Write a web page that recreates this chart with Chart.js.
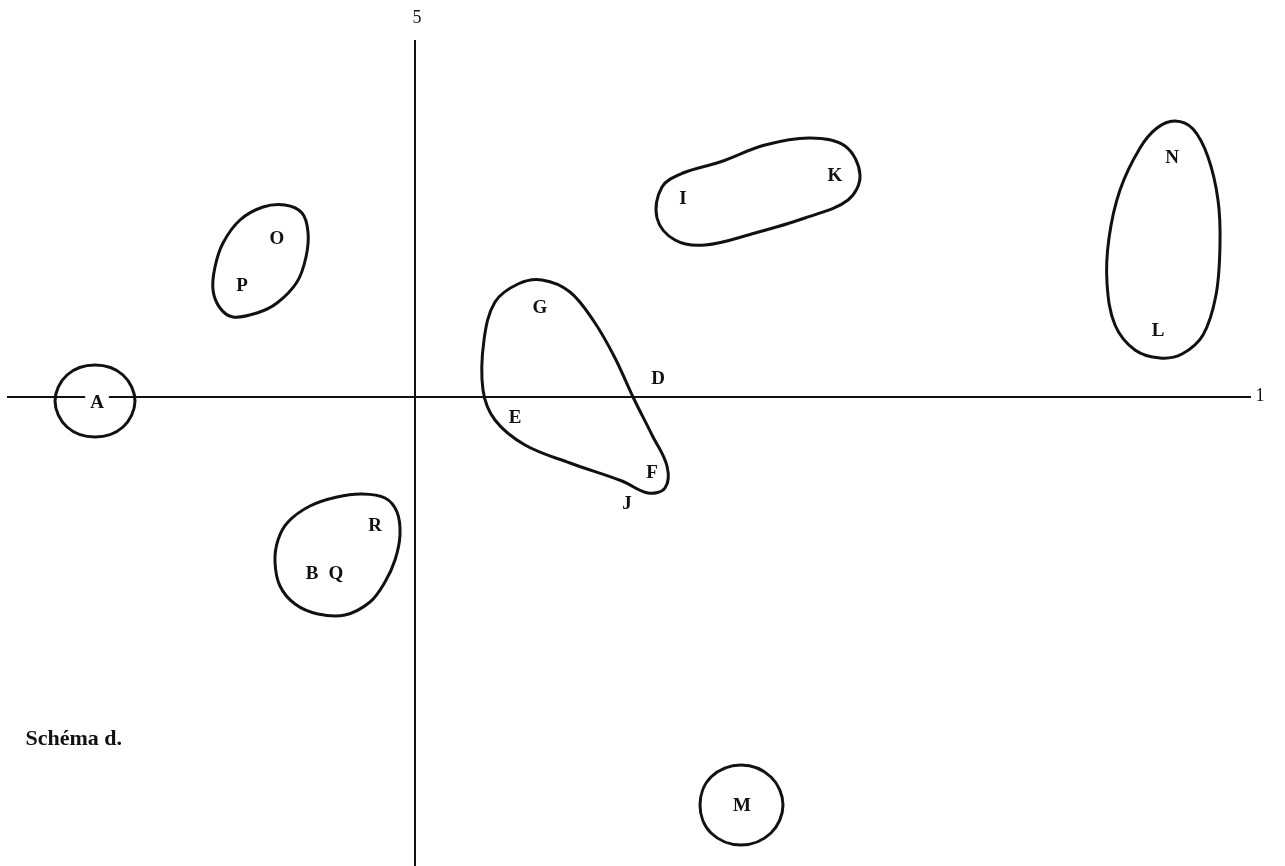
<!DOCTYPE html>
<html>
<head>
<meta charset="utf-8">
<script src="https://cdn.jsdelivr.net/npm/chart.js@4.4.1/dist/chart.umd.min.js"></script>
<style>
  html, body { margin: 0; padding: 0; background: #fff; }
  #wrap { width: 1285px; height: 866px; }
</style>
</head>
<body>
<div id="wrap"><canvas id="schema" width="1285" height="866"></canvas></div>
<script>
// individual positions on factors 1 (x) and 5 (y)
const names = ['A', 'O', 'P', 'R', 'B', 'Q', 'G', 'D', 'E', 'F', 'J', 'I', 'K', 'N', 'L', 'M'];
const factor1 = [-3.18, -1.38, -1.73, -0.40, -1.03, -0.79, 1.25, 2.43, 1.00, 2.37, 2.12, 2.68, 4.20, 7.57, 7.43, 3.27];
const factor5 = [-0.05, 1.59, 1.12, -1.28, -1.76, -1.76, 0.90, 0.19, -0.20, -0.75, -1.06, 1.99, 2.22, 2.40, 0.67, -4.08];

// outlines of the groups, [x, y] on the same two factors
const groupA = [[-3.20, 0.32], [-2.92, 0.22], [-2.80, -0.04], [-2.92, -0.30], [-3.20, -0.40], [-3.48, -0.30], [-3.60, -0.04], [-3.48, 0.22]];
const groupOP = [[-1.30, 1.92], [-1.13, 1.84], [-1.07, 1.65], [-1.09, 1.40], [-1.18, 1.15], [-1.38, 0.94], [-1.58, 0.84],
  [-1.82, 0.80], [-1.95, 0.89], [-2.02, 1.07], [-2.00, 1.30], [-1.92, 1.54], [-1.75, 1.77], [-1.52, 1.90]];
const groupBQR = [[-0.78, -1.00], [-0.53, -0.97], [-0.30, -1.01], [-0.18, -1.15], [-0.15, -1.38], [-0.20, -1.63], [-0.30, -1.85], [-0.45, -2.05],
  [-0.70, -2.18], [-0.97, -2.17], [-1.20, -2.07], [-1.35, -1.89], [-1.40, -1.65], [-1.37, -1.43], [-1.27, -1.25], [-1.05, -1.09]];
const groupDEFGJ = [[1.27, 1.17], [1.55, 1.05], [1.80, 0.74], [2.00, 0.39], [2.18, 0.00], [2.37, -0.38], [2.52, -0.69], [2.50, -0.91], [2.33, -0.96],
  [2.07, -0.84], [1.55, -0.66], [1.10, -0.48], [0.80, -0.23], [0.68, 0.07], [0.69, 0.57], [0.80, 0.95], [1.03, 1.13]];
const groupIK = [[2.42, 1.79], [2.47, 2.10], [2.68, 2.24], [3.05, 2.35], [3.50, 2.52], [3.95, 2.59], [4.30, 2.51], [4.45, 2.22], [4.33, 1.97],
  [3.90, 1.79], [3.40, 1.64], [2.90, 1.52], [2.60, 1.57]];
const groupLN = [[7.60, 2.76], [7.78, 2.68], [7.93, 2.40], [8.03, 1.97], [8.05, 1.52], [8.01, 1.02], [7.88, 0.62], [7.67, 0.43], [7.45, 0.39],
  [7.20, 0.47], [7.00, 0.72], [6.92, 1.14], [6.94, 1.59], [7.05, 2.07], [7.25, 2.49], [7.42, 2.69]];
const groupM = [[3.26, -3.68], [3.56, -3.80], [3.68, -4.08], [3.56, -4.36], [3.26, -4.48], [2.96, -4.36], [2.85, -4.08], [2.96, -3.80]];

// axis extents and their names
const axis1 = [-4.08, 8.36];
const axis5 = [3.57, -4.69];
const axisNames = ['1', '5'];

const ink = '#111';
const serif = '"Liberation Serif", "Times New Roman", serif';

// closed smooth loop: wrap the outline so every drawn point has both neighbours,
// then hide the two helper segments at the ends
function loop(pts) {
  const n = pts.length;
  const wrapped = [pts[n - 1], ...pts, pts[0], pts[1]].map(p => ({ x: p[0], y: p[1] }));
  const last = wrapped.length - 1;
  return {
    data: wrapped,
    showLine: true,
    tension: 0.36,
    borderColor: ink,
    borderWidth: 3,
    pointRadius: 0,
    segment: {
      borderColor: ctx => (ctx.p0DataIndex === 0 || ctx.p1DataIndex === last) ? 'rgba(0,0,0,0)' : undefined
    }
  };
}

function axisLine(points) {
  return {
    data: points,
    showLine: true,
    tension: 0,
    borderColor: ink,
    borderWidth: 2,
    pointRadius: 0
  };
}

const letterPlugin = {
  id: 'letters',
  afterDatasetsDraw(chart) {
    const { ctx, scales: { x, y } } = chart;
    const meta = chart.getDatasetMeta(chart.data.datasets.length - 1);
    ctx.save();
    ctx.textAlign = 'center';
    ctx.textBaseline = 'middle';
    ctx.font = 'bold 19px ' + serif;
    meta.data.forEach((pt, i) => {
      const w = ctx.measureText(names[i]).width;
      ctx.fillStyle = '#fff';
      ctx.fillRect(pt.x - w / 2 - 5, pt.y - 8, w + 10, 16);
      ctx.fillStyle = ink;
      ctx.fillText(names[i], pt.x, pt.y + 1);
    });

    ctx.font = '18px ' + serif;
    ctx.fillText(axisNames[0], x.getPixelForValue(8.45), y.getPixelForValue(0.01));
    ctx.fillText(axisNames[1], x.getPixelForValue(0.02), y.getPixelForValue(3.79));

    ctx.font = 'bold 22px ' + serif;
    ctx.textAlign = 'right';
    ctx.textBaseline = 'alphabetic';
    ctx.fillText('Schéma d.', x.getPixelForValue(-2.93), y.getPixelForValue(-3.48));
    ctx.restore();
  }
};

new Chart(document.getElementById('schema'), {
  type: 'scatter',
  data: {
    datasets: [
      axisLine([{ x: axis1[0], y: 0 }, { x: axis1[1], y: 0 }]),
      axisLine([{ x: 0, y: axis5[0] }, { x: 0, y: axis5[1] }]),
      loop(groupA),
      loop(groupOP),
      loop(groupBQR),
      loop(groupDEFGJ),
      loop(groupIK),
      loop(groupLN),
      loop(groupM),
      {
        data: names.map((n, i) => ({ x: factor1[i], y: factor5[i] })),
        pointRadius: 0,
        showLine: false
      }
    ]
  },
  options: {
    responsive: false,
    animation: false,
    layout: { padding: 0 },
    plugins: { legend: { display: false }, tooltip: { enabled: false } },
    scales: {
      x: { type: 'linear', min: -4.15, max: 8.70, display: false },
      y: { type: 'linear', min: -4.69, max: 3.97, display: false }
    }
  },
  plugins: [letterPlugin]
});
</script>
</body>
</html>
